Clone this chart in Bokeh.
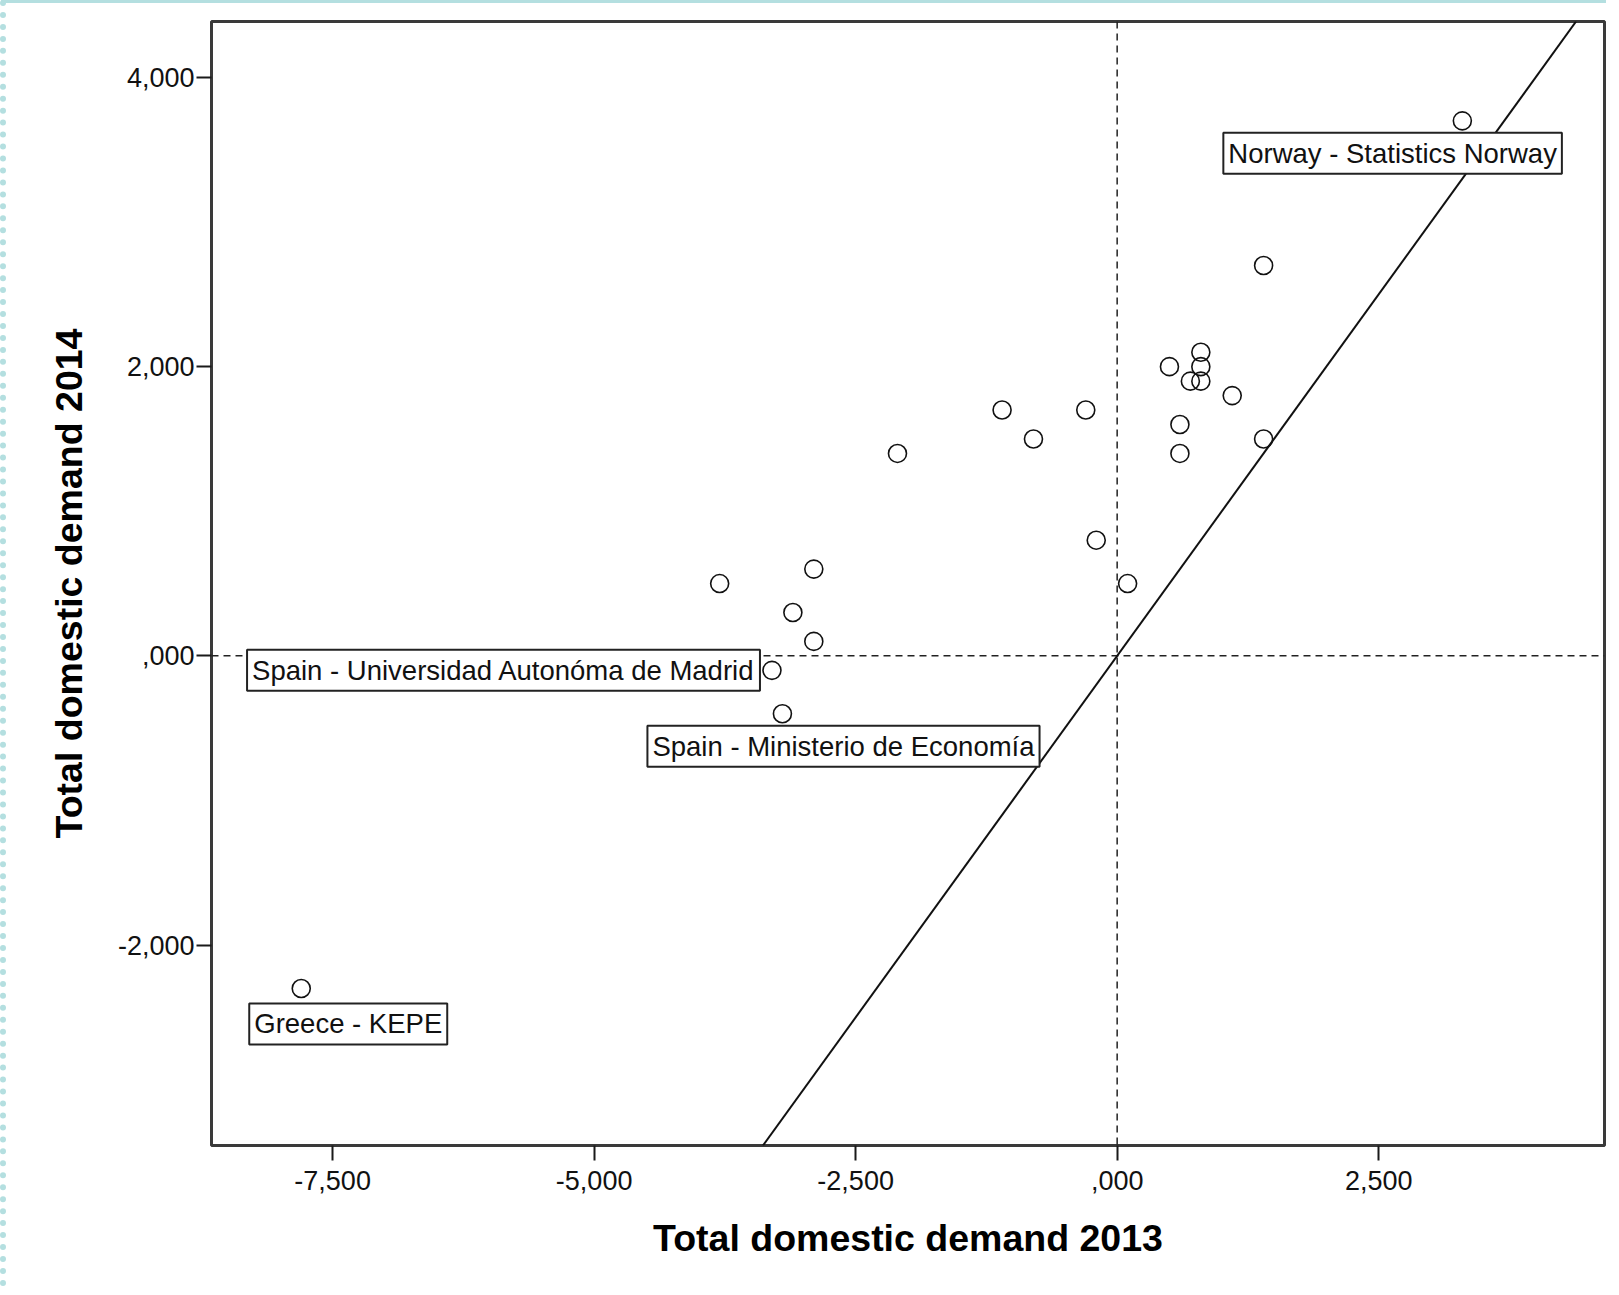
from bokeh.plotting import figure
from bokeh.models import Span, Slope, Label, FixedTicker, Range1d, ColumnDataSource
from bokeh.embed import file_html
from bokeh.resources import INLINE

# ---- data ----
demand_2013 = [3.3, 1.4, 0.8, 0.5, 0.8, 0.7, 0.8, 1.1, 0.6, 0.6, 1.4, -1.1,
               -0.3, -0.8, -2.1, -0.2, 0.1, -3.8, -2.9, -3.1, -2.9, -3.3, -3.2, -7.8]
demand_2014 = [3.7, 2.7, 2.1, 2.0, 2.0, 1.9, 1.9, 1.8, 1.6, 1.4, 1.5, 1.7,
               1.7, 1.5, 1.4, 0.8, 0.5, 0.5, 0.6, 0.3, 0.1, -0.1, -0.4, -2.3]

label_names = ["Norway - Statistics Norway",
               "Spain - Universidad Autonóma de Madrid",
               "Spain - Ministerio de Economía",
               "Greece - KEPE"]
label_index = [0, 21, 22, 23]

x_ticks = [-7.5, -5.0, -2.5, 0.0, 2.5]
x_tick_labels = ["-7,500", "-5,000", "-2,500", ",000", "2,500"]
y_ticks = [-2.0, 0.0, 2.0, 4.0]
y_tick_labels = ["-2,000", ",000", "2,000", "4,000"]

ref_gradient = 1.0
ref_intercept = 0.0
x_limits = (-8.658, 4.659)
y_limits = (-3.386, 4.387)

# ---- styles for the labels (screen offsets) ----
label_styles = [
    dict(text_align="left", text_baseline="top", x_offset=-239, y_offset=-12),
    dict(text_align="right", text_baseline="middle", x_offset=-12, y_offset=0),
    dict(text_align="left", text_baseline="top", x_offset=-135, y_offset=-12),
    dict(text_align="left", text_baseline="top", x_offset=-52, y_offset=-15),
]

FONT = "Liberation Sans"

p = figure(width=1606, height=1287, output_backend="svg", toolbar_location=None,
           x_range=Range1d(*x_limits), y_range=Range1d(*y_limits),
           min_border_left=205, min_border_right=8, min_border_top=18,
           min_border_bottom=145)
p.styles = {"border-left": "6px dotted #b4dfe0", "border-top": "3px solid #b4dfe0"}
p.background_fill_color = "white"
p.border_fill_color = "white"
p.outline_line_color = "#3a3a3a"
p.outline_line_width = 3
p.grid.visible = False

for ax in (p.xaxis[0], p.yaxis[0]):
    ax.axis_line_color = None
    ax.major_tick_line_color = "#1a1a1a"
    ax.major_tick_line_width = 2
    ax.major_tick_out = 15
    ax.major_tick_in = 0
    ax.minor_tick_line_color = None
    ax.major_label_text_font = FONT
    ax.major_label_text_font_size = "27px"
    ax.major_label_text_color = "#111111"
    ax.axis_label_text_font = FONT
    ax.axis_label_text_font_size = "37.5px"
    ax.axis_label_text_font_style = "bold"
    ax.axis_label_text_color = "black"

p.xaxis.ticker = FixedTicker(ticks=x_ticks)
p.xaxis.major_label_overrides = dict(zip(x_ticks, x_tick_labels))
p.yaxis.ticker = FixedTicker(ticks=y_ticks)
p.yaxis.major_label_overrides = dict(zip(y_ticks, y_tick_labels))
p.xaxis.axis_label = "Total domestic demand 2013"
p.yaxis.axis_label = "Total domestic demand 2014"
p.xaxis.major_label_standoff = 10
p.yaxis.major_label_standoff = 2
p.xaxis.axis_label_standoff = 24
p.yaxis.axis_label_standoff = 25

# reference lines
p.add_layout(Span(location=0, dimension="height", line_color="#222222",
                  line_width=1.5, line_dash="7 5"))
p.add_layout(Span(location=0, dimension="width", line_color="#222222",
                  line_width=1.5, line_dash="7 5"))
p.add_layout(Slope(gradient=ref_gradient, y_intercept=ref_intercept,
                   line_color="#111111", line_width=2))

src = ColumnDataSource(dict(x=demand_2013, y=demand_2014))
p.scatter("x", "y", source=src, size=18, marker="circle", fill_color=None,
          line_color="#111111", line_width=1.6)

for name, idx, st in zip(label_names, label_index, label_styles):
    p.add_layout(Label(x=demand_2013[idx], y=demand_2014[idx], text=name,
                       text_font=FONT, text_font_size="27.5px", text_color="#111111",
                       background_fill_color="white",
                       border_line_color="#222222", border_line_width=2,
                       padding=5, **st))

open("out.html", "w").write(file_html(p, INLINE))
